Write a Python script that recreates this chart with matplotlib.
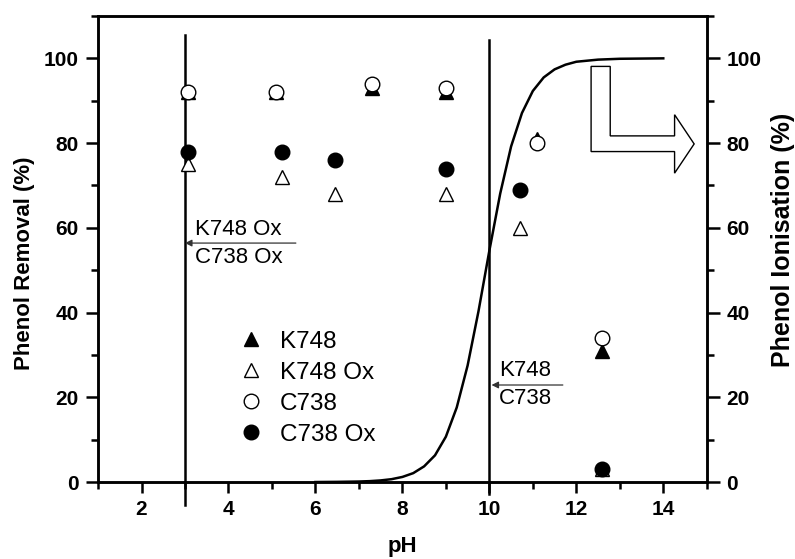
import matplotlib
matplotlib.use("Agg")
import matplotlib.pyplot as plt
from matplotlib.patches import Polygon
from matplotlib.ticker import MultipleLocator

plt.rcParams['font.family'] = ['Liberation Sans', 'DejaVu Sans']
plt.rcParams['font.weight'] = 'bold'

# removal data (pH, %)
k748_ph = [3.07, 5.09, 7.30, 9.0, 11.1, 12.6]
k748 = [92, 92, 93, 92, 81, 31]
k748ox_ph = [3.07, 5.24, 6.46, 9.0, 10.7, 12.6]
k748ox = [75, 72, 68, 68, 60, 3]
c738_ph = [3.07, 5.09, 7.30, 9.0, 11.1, 12.6]
c738 = [92, 92, 94, 93, 80, 34]
c738ox_ph = [3.07, 5.24, 6.46, 9.0, 10.7, 12.6]
c738ox = [78, 78, 76, 74, 69, 3]

# phenol ionisation curve
ion_ph = [6, 6.5, 7, 7.25, 7.5, 7.75, 8, 8.25, 8.5, 8.75, 9, 9.25, 9.5, 9.75, 10,
          10.25, 10.5, 10.75, 11, 11.25, 11.5, 11.75, 12, 12.5, 13, 14]
ion = [0.0, 0.04, 0.12, 0.21, 0.38, 0.67, 1.2, 2.1, 3.7, 6.3, 10.7, 17.6, 27.5, 40.3, 54.6,
       68.1, 79.2, 87.1, 92.3, 95.5, 97.4, 98.5, 99.2, 99.7, 99.9, 100]

fig = plt.figure(figsize=(7.95, 5.59), dpi=100)
ax = fig.add_axes([0.1233, 0.1377, 0.7657, 0.8337])
ax2 = ax.twinx()

ms = 10.5
ax.plot(k748_ph, k748, '^', color='black', ms=ms, label='K748', zorder=3)
ax.plot(k748ox_ph, k748ox, '^', mfc='white', mec='black', mew=1.0, ms=ms, label='K748 Ox', zorder=3)
ax.plot(c738_ph, c738, 'o', mfc='white', mec='black', mew=1.0, ms=ms, label='C738', zorder=4)
ax.plot(c738ox_ph, c738ox, 'o', color='black', ms=ms, label='C738 Ox', zorder=4)

ax2.plot(ion_ph, ion, '-', color='black', lw=1.8)

# vertical lines
ax.plot([3, 3], [-5.4, 105.4], color='black', lw=1.8, clip_on=False)
ax.plot([10, 10], [-2.8, 104.4], color='black', lw=1.8, clip_on=False)

# annotations
ax.annotate('', xy=(3.0, 56.4), xytext=(5.55, 56.4),
            arrowprops=dict(arrowstyle='-|>', color='#333333', lw=0.9, mutation_scale=10,
                            shrinkA=0, shrinkB=0))
ax.text(3.22, 59.6, 'K748 Ox', fontsize=16, fontweight='normal', va='center', ha='left')
ax.text(3.22, 52.9, 'C738 Ox', fontsize=16, fontweight='normal', va='center', ha='left')
ax.annotate('', xy=(10.05, 22.9), xytext=(11.69, 22.9),
            arrowprops=dict(arrowstyle='-|>', color='#333333', lw=0.9, mutation_scale=10,
                            shrinkA=0, shrinkB=0))
ax.text(10.22, 26.3, 'K748', fontsize=16, fontweight='normal', va='center', ha='left')
ax.text(10.22, 19.8, 'C738', fontsize=16, fontweight='normal', va='center', ha='left')

# hollow L-shaped arrow
arrow_pts = [(12.34, 98.1), (12.78, 98.1), (12.78, 81.7), (14.26, 81.7), (14.26, 86.7),
             (14.71, 79.8), (14.26, 72.9), (14.26, 78.0), (12.34, 78.0)]
ax.add_patch(Polygon(arrow_pts, closed=True, fc='white', ec='black', lw=1.0, zorder=5))

for a in (ax, ax2):
    a.set_xlim(1, 15)
    a.set_ylim(0, 110)
    a.yaxis.set_major_locator(MultipleLocator(20))
    a.yaxis.set_minor_locator(MultipleLocator(10))
    for s in a.spines.values():
        s.set_linewidth(1.8)
    a.tick_params(which='major', length=9, width=1.8, labelsize=15, pad=5)
    a.tick_params(which='minor', length=5, width=1.8)

ax.set_xticks([2, 4, 6, 8, 10, 12, 14])
ax.xaxis.set_minor_locator(MultipleLocator(1))
ax.tick_params(axis='x', which='major', length=8, pad=5)

ax.set_xlabel('pH', fontsize=16, fontweight='bold')
ax.xaxis.set_label_coords(0.5, -0.115)
ax.set_ylabel('Phenol Removal (%)', fontsize=16, fontweight='bold')
ax.yaxis.set_label_coords(-0.104, 0.47)
ax2.set_ylabel('Phenol Ionisation (%)', fontsize=18, fontweight='bold')
ax2.yaxis.set_label_coords(1.105, 0.519)

ax.legend(loc='upper left', bbox_to_anchor=(0.207, 0.345), frameon=False,
          prop={'size': 17.5, 'weight': 'normal'},
          handletextpad=0.5, labelspacing=0.37, handlelength=1.4, borderaxespad=0)

fig.savefig('out.png', dpi=100)
